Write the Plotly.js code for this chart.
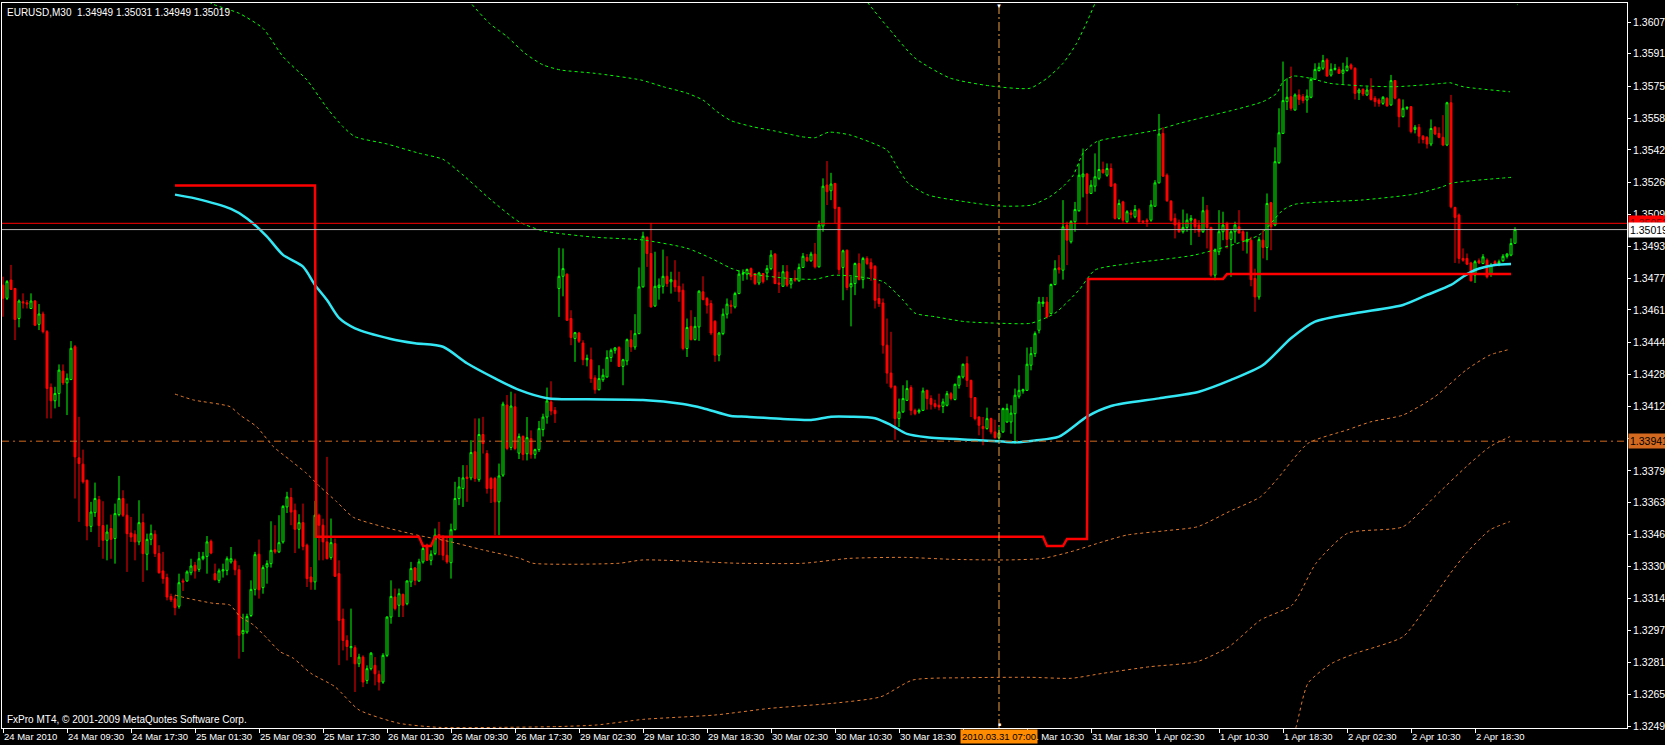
<!DOCTYPE html>
<html><head><meta charset="utf-8">
<script src="https://cdn.plot.ly/plotly-3.0.1.min.js"></script>
<style>html,body{margin:0;padding:0;background:#000;overflow:hidden}#chart{width:1665px;height:745px}</style>
</head><body><div id="chart"></div>
<script>
// ---- EURUSD M30 candles (bar index 0..378) ----
const openP = [
1.34736,1.34669,1.34762,1.34719,1.34566,1.34651,1.34646,1.34617,1.34655,1.34536,
1.34589,1.34499,1.34215,1.34147,1.34184,1.34298,1.34238,1.34255,1.34422,1.33856,
1.33824,1.33742,1.33507,1.33577,1.33643,1.33511,1.33436,1.33496,1.33445,1.33567,
1.33649,1.33564,1.33473,1.33467,1.33428,1.33526,1.33365,1.33441,1.33467,1.33368,
1.33280,1.33246,1.33150,1.33138,1.33100,1.33229,1.33229,1.33271,1.33309,1.33288,
1.33342,1.33354,1.33431,1.33266,1.33232,1.33280,1.33283,1.33326,1.33331,1.33286,
1.32960,1.32969,1.33053,1.33186,1.33365,1.33195,1.33300,1.33317,1.33388,1.33377,
1.33428,1.33606,1.33654,1.33589,1.33492,1.33526,1.33411,1.33249,1.33224,1.33564,
1.33513,1.33428,1.33348,1.33419,1.33266,1.33035,1.32926,1.32889,1.32889,1.32807,
1.32841,1.32722,1.32782,1.32799,1.32753,1.32714,1.32850,1.33045,1.33147,1.33105,
1.33161,1.33113,1.33224,1.33295,1.33229,1.33326,1.33411,1.33334,1.33368,1.33465,
1.33453,1.33360,1.33322,1.33490,1.33649,1.33700,1.33758,1.33754,1.33887,1.33745,
1.33975,1.33878,1.33751,1.33751,1.33632,1.33768,1.34125,1.33909,1.34116,1.33880,
1.33965,1.33877,1.33954,1.33874,1.33898,1.34000,1.34064,1.34141,1.34098,1.34719,
1.34781,1.34792,1.34566,1.34464,1.34492,1.34441,1.34356,1.34356,1.34263,1.34203,
1.34254,1.34268,1.34367,1.34404,1.34418,1.34322,1.34350,1.34458,1.34421,1.34489,
1.34727,1.34979,1.34897,1.34630,1.34724,1.34730,1.34781,1.34753,1.34761,1.34730,
1.34710,1.34413,1.34526,1.34458,1.34523,1.34702,1.34668,1.34642,1.34552,1.34379,
1.34489,1.34588,1.34634,1.34625,1.34693,1.34792,1.34792,1.34820,1.34795,1.34747,
1.34795,1.34798,1.34820,1.34894,1.34747,1.34730,1.34804,1.34741,1.34770,1.34758,
1.34826,1.34877,1.34860,1.34894,1.34829,1.35037,1.35246,1.35217,1.35254,1.35132,
1.34826,1.34914,1.34727,1.34744,1.34846,1.34764,1.34872,1.34850,1.34832,1.34668,
1.34645,1.34430,1.34288,1.34220,1.34056,1.34090,1.34149,1.34214,1.34098,1.34090,
1.34098,1.34200,1.34158,1.34132,1.34124,1.34118,1.34124,1.34183,1.34153,1.34226,
1.34268,1.34336,1.34251,1.34163,1.34064,1.34016,1.34005,1.34056,1.33988,1.33959,
1.33988,1.34039,1.34039,1.34081,1.34170,1.34197,1.34200,1.34328,1.34387,1.34506,
1.34642,1.34650,1.34591,1.34739,1.34824,1.34812,1.35042,1.34957,1.35059,1.35115,
1.35288,1.35302,1.35203,1.35240,1.35280,1.35325,1.35296,1.35330,1.35251,1.35076,
1.35160,1.35059,1.35104,1.35084,1.35118,1.35062,1.35067,1.35067,1.35138,1.35257,
1.35509,1.35296,1.35164,1.35076,1.35053,1.35008,1.35030,1.35067,1.35070,1.35042,
1.35008,1.35118,1.35030,1.34787,1.34906,1.35008,1.35050,1.34969,1.35008,1.35033,
1.35008,1.34957,1.34965,1.34770,1.34676,1.34965,1.34928,1.35156,1.35042,1.35360,
1.35509,1.35671,1.35696,1.35628,1.35705,1.35696,1.35679,1.35693,1.35784,1.35829,
1.35841,1.35883,1.35806,1.35835,1.35835,1.35815,1.35829,1.35858,1.35841,1.35716,
1.35733,1.35705,1.35733,1.35688,1.35679,1.35662,1.35688,1.35654,1.35778,1.35682,
1.35594,1.35637,1.35645,1.35529,1.35540,1.35495,1.35489,1.35455,1.35540,1.35509,
1.35489,1.35450,1.35665,1.35132,1.35093,1.34872,1.34872,1.34849,1.34787,1.34860,
1.34846,1.34863,1.34795,1.34855,1.34846,1.34860,1.34883,1.34889,1.34949];
const highP = [
1.34779,1.34762,1.34839,1.34722,1.34663,1.34694,1.34660,1.34694,1.34660,1.34640,
1.34601,1.34507,1.34235,1.34218,1.34332,1.34332,1.34286,1.34451,1.34431,1.34065,
1.33898,1.33745,1.33632,1.33730,1.33662,1.33635,1.33516,1.33567,1.33623,1.33764,
1.33691,1.33623,1.33555,1.33487,1.33640,1.33572,1.33470,1.33516,1.33487,1.33411,
1.33377,1.33266,1.33164,1.33156,1.33266,1.33241,1.33283,1.33342,1.33326,1.33377,
1.33377,1.33458,1.33440,1.33317,1.33292,1.33317,1.33354,1.33402,1.33342,1.33309,
1.33062,1.33062,1.33232,1.33377,1.33440,1.33309,1.33334,1.33533,1.33513,1.33564,
1.33615,1.33683,1.33703,1.33623,1.33569,1.33623,1.33419,1.33300,1.33637,1.33572,
1.33546,1.33861,1.33547,1.33445,1.33334,1.33088,1.32952,1.33088,1.32901,1.32858,
1.32850,1.32799,1.32867,1.32841,1.32773,1.32861,1.33049,1.33232,1.33190,1.33190,
1.33164,1.33232,1.33326,1.33300,1.33342,1.33402,1.33419,1.33385,1.33496,1.33530,
1.33462,1.33453,1.33521,1.33734,1.33759,1.33819,1.33819,1.33946,1.34057,1.34057,
1.34065,1.33895,1.33759,1.33759,1.33827,1.34142,1.34176,1.34193,1.34184,1.33980,
1.33971,1.34064,1.33996,1.33903,1.34044,1.34081,1.34214,1.34246,1.34115,1.34926,
1.34923,1.34795,1.34608,1.34498,1.34498,1.34455,1.34382,1.34418,1.34277,1.34328,
1.34310,1.34404,1.34413,1.34421,1.34425,1.34361,1.34464,1.34506,1.34588,1.34826,
1.35008,1.34985,1.35053,1.34906,1.34770,1.34917,1.34883,1.34804,1.34863,1.34804,
1.34744,1.34566,1.34608,1.34574,1.34710,1.34781,1.34676,1.34659,1.34557,1.34498,
1.34617,1.34668,1.34659,1.34702,1.34812,1.34816,1.34820,1.34826,1.34798,1.34804,
1.34798,1.34838,1.34914,1.34900,1.34804,1.34838,1.34838,1.34770,1.34812,1.34846,
1.34900,1.34894,1.34906,1.34951,1.35064,1.35280,1.35368,1.35308,1.35257,1.35135,
1.34917,1.34917,1.34778,1.34851,1.34897,1.34880,1.34883,1.34872,1.34838,1.34744,
1.34668,1.34566,1.34498,1.34226,1.34158,1.34226,1.34251,1.34226,1.34107,1.34107,
1.34214,1.34203,1.34175,1.34152,1.34183,1.34158,1.34197,1.34192,1.34234,1.34277,
1.34336,1.34373,1.34254,1.34166,1.34068,1.34064,1.34112,1.34061,1.34050,1.34013,
1.34112,1.34132,1.34124,1.34209,1.34277,1.34209,1.34418,1.34421,1.34500,1.34676,
1.34676,1.34676,1.34744,1.34863,1.34889,1.35169,1.35059,1.35067,1.35160,1.35356,
1.35432,1.35308,1.35271,1.35407,1.35472,1.35365,1.35356,1.35356,1.35257,1.35172,
1.35166,1.35118,1.35118,1.35144,1.35127,1.35067,1.35076,1.35169,1.35271,1.35608,
1.35540,1.35305,1.35169,1.35101,1.35070,1.35121,1.35101,1.35093,1.35076,1.35067,
1.35186,1.35144,1.35033,1.34923,1.35118,1.35110,1.35059,1.35016,1.35059,1.35118,
1.35016,1.35008,1.34982,1.34820,1.34982,1.35016,1.35203,1.35160,1.35438,1.35637,
1.35875,1.35790,1.35849,1.35713,1.35733,1.35710,1.35733,1.35795,1.35866,1.35869,
1.35909,1.35892,1.35866,1.35863,1.35849,1.35869,1.35897,1.35866,1.35846,1.35739,
1.35739,1.35747,1.35790,1.35699,1.35688,1.35699,1.35693,1.35807,1.35781,1.35688,
1.35682,1.35645,1.35648,1.35552,1.35557,1.35500,1.35495,1.35580,1.35546,1.35540,
1.35602,1.35670,1.35705,1.35135,1.35101,1.34923,1.34897,1.34855,1.34863,1.34872,
1.34894,1.34872,1.34849,1.34863,1.34866,1.34894,1.34900,1.34974,1.35031];
const lowP = [
1.34575,1.34660,1.34711,1.34456,1.34521,1.34617,1.34617,1.34615,1.34527,1.34507,
1.34490,1.34057,1.34057,1.34108,1.34116,1.34227,1.34074,1.34252,1.33649,1.33530,
1.33725,1.33436,1.33478,1.33555,1.33402,1.33342,1.33334,1.33342,1.33317,1.33558,
1.33555,1.33275,1.33428,1.33334,1.33411,1.33224,1.33283,1.33411,1.33351,1.33266,
1.33215,1.33130,1.33122,1.33054,1.33088,1.33178,1.33224,1.33258,1.33241,1.33275,
1.33334,1.33266,1.33365,1.33232,1.33218,1.33246,1.33258,1.33317,1.33258,1.32833,
1.32867,1.32960,1.33045,1.33155,1.33139,1.33164,1.33215,1.33297,1.33368,1.33371,
1.33419,1.33575,1.33513,1.33371,1.33394,1.33385,1.33198,1.33184,1.33184,1.33334,
1.33334,1.33339,1.33337,1.33249,1.32800,1.32875,1.32824,1.32841,1.32663,1.32790,
1.32688,1.32705,1.32773,1.32697,1.32671,1.32705,1.32841,1.33011,1.33079,1.33045,
1.33045,1.33105,1.33198,1.33207,1.33224,1.33317,1.33331,1.33309,1.33360,1.33360,
1.33334,1.33317,1.33241,1.33487,1.33615,1.33606,1.33632,1.33742,1.33734,1.33734,
1.33878,1.33674,1.33626,1.33462,1.33462,1.33759,1.33895,1.33895,1.33895,1.33850,
1.33843,1.33843,1.33852,1.33852,1.33886,1.33965,1.34030,1.34073,1.34034,1.34574,
1.34679,1.34554,1.34430,1.34345,1.34441,1.34328,1.34322,1.34238,1.34183,1.34200,
1.34243,1.34265,1.34345,1.34387,1.34319,1.34226,1.34328,1.34396,1.34407,1.34486,
1.34724,1.34829,1.34622,1.34625,1.34662,1.34693,1.34727,1.34693,1.34702,1.34651,
1.34404,1.34370,1.34455,1.34455,1.34452,1.34659,1.34591,1.34481,1.34345,1.34348,
1.34481,1.34566,1.34591,1.34617,1.34690,1.34758,1.34764,1.34761,1.34736,1.34736,
1.34744,1.34761,1.34812,1.34741,1.34696,1.34727,1.34727,1.34719,1.34753,1.34753,
1.34823,1.34855,1.34855,1.34821,1.34826,1.35008,1.35144,1.35169,1.35050,1.34792,
1.34659,1.34710,1.34526,1.34685,1.34761,1.34719,1.34838,1.34758,1.34617,1.34625,
1.34387,1.34234,1.34209,1.33948,1.34013,1.34085,1.34146,1.34073,1.34073,1.34081,
1.34095,1.34102,1.34102,1.34107,1.34098,1.34084,1.34118,1.34149,1.34149,1.34209,
1.34260,1.34217,1.34064,1.34047,1.33971,1.33920,1.34000,1.33976,1.33954,1.33940,
1.33983,1.34034,1.33979,1.33928,1.34158,1.34183,1.34197,1.34302,1.34370,1.34490,
1.34625,1.34566,1.34588,1.34735,1.34795,1.34764,1.34838,1.34948,1.35008,1.35110,
1.35183,1.35045,1.35200,1.35212,1.35271,1.35305,1.35288,1.35237,1.35070,1.35070,
1.35053,1.35053,1.35076,1.35076,1.35053,1.35053,1.35033,1.35059,1.35135,1.35254,
1.35288,1.35160,1.35059,1.34974,1.35002,1.34999,1.35008,1.34940,1.35002,1.34982,
1.35002,1.34923,1.34778,1.34761,1.34889,1.34965,1.34923,1.34778,1.34951,1.34999,
1.34911,1.34897,1.34730,1.34600,1.34662,1.34872,1.34863,1.34914,1.35036,1.35353,
1.35506,1.35628,1.35625,1.35625,1.35654,1.35662,1.35614,1.35688,1.35781,1.35824,
1.35832,1.35798,1.35798,1.35829,1.35812,1.35761,1.35824,1.35832,1.35682,1.35679,
1.35699,1.35699,1.35676,1.35645,1.35645,1.35654,1.35645,1.35649,1.35682,1.35540,
1.35591,1.35628,1.35509,1.35509,1.35458,1.35458,1.35432,1.35444,1.35500,1.35484,
1.35444,1.35444,1.35127,1.34849,1.34846,1.34855,1.34838,1.34755,1.34747,1.34843,
1.34843,1.34770,1.34778,1.34838,1.34832,1.34855,1.34872,1.34883,1.34949];
const closeP = [
1.34669,1.34754,1.34714,1.34561,1.34655,1.34646,1.34640,1.34655,1.34532,1.34589,
1.34499,1.34210,1.34147,1.34184,1.34303,1.34238,1.34261,1.34414,1.33861,1.33827,
1.33734,1.33509,1.33580,1.33649,1.33511,1.33436,1.33478,1.33441,1.33572,1.33649,
1.33564,1.33470,1.33453,1.33428,1.33526,1.33368,1.33441,1.33470,1.33368,1.33271,
1.33241,1.33147,1.33133,1.33093,1.33220,1.33224,1.33275,1.33305,1.33280,1.33342,
1.33354,1.33428,1.33371,1.33235,1.33280,1.33286,1.33342,1.33342,1.33286,1.32952,
1.32977,1.33048,1.33186,1.33363,1.33184,1.33297,1.33317,1.33385,1.33377,1.33424,
1.33609,1.33657,1.33580,1.33492,1.33526,1.33405,1.33241,1.33224,1.33564,1.33513,
1.33428,1.33342,1.33424,1.33253,1.33028,1.32926,1.32895,1.32895,1.32807,1.32841,
1.32714,1.32782,1.32861,1.32756,1.32714,1.32850,1.33045,1.33150,1.33088,1.33164,
1.33105,1.33229,1.33292,1.33232,1.33326,1.33394,1.33334,1.33365,1.33462,1.33445,
1.33360,1.33326,1.33490,1.33649,1.33708,1.33754,1.33751,1.33883,1.33751,1.33975,
1.33929,1.33700,1.33700,1.33632,1.33764,1.34130,1.33904,1.34120,1.33904,1.33965,
1.33874,1.33959,1.33874,1.33898,1.34005,1.34064,1.34146,1.34095,1.34081,1.34781,
1.34820,1.34557,1.34469,1.34494,1.34450,1.34356,1.34363,1.34260,1.34203,1.34260,
1.34277,1.34367,1.34404,1.34416,1.34322,1.34356,1.34458,1.34421,1.34489,1.34727,
1.34985,1.34897,1.34625,1.34730,1.34736,1.34781,1.34744,1.34764,1.34727,1.34702,
1.34413,1.34520,1.34458,1.34526,1.34705,1.34662,1.34634,1.34492,1.34379,1.34492,
1.34588,1.34639,1.34628,1.34693,1.34792,1.34795,1.34816,1.34781,1.34744,1.34798,
1.34753,1.34820,1.34889,1.34744,1.34741,1.34804,1.34736,1.34764,1.34761,1.34826,
1.34883,1.34860,1.34894,1.34829,1.35042,1.35240,1.35212,1.35251,1.35127,1.34815,
1.34911,1.34724,1.34744,1.34846,1.34764,1.34872,1.34846,1.34820,1.34659,1.34642,
1.34430,1.34288,1.34217,1.34056,1.34090,1.34158,1.34209,1.34098,1.34081,1.34098,
1.34197,1.34158,1.34129,1.34118,1.34115,1.34141,1.34183,1.34158,1.34231,1.34271,
1.34333,1.34251,1.34163,1.34056,1.34022,1.34005,1.34056,1.33988,1.33959,1.33983,
1.34107,1.34107,1.34084,1.34175,1.34200,1.34203,1.34333,1.34387,1.34489,1.34650,
1.34650,1.34574,1.34739,1.34820,1.34815,1.35033,1.34965,1.35059,1.35121,1.35296,
1.35302,1.35203,1.35245,1.35288,1.35325,1.35308,1.35330,1.35240,1.35076,1.35152,
1.35067,1.35110,1.35096,1.35121,1.35059,1.35057,1.35059,1.35144,1.35257,1.35506,
1.35291,1.35166,1.35067,1.35042,1.35008,1.35030,1.35067,1.35076,1.35033,1.35008,
1.35115,1.35030,1.34787,1.34914,1.35008,1.35042,1.34969,1.35008,1.35042,1.35002,
1.34962,1.34968,1.34764,1.34676,1.34968,1.34928,1.35152,1.35033,1.35365,1.35512,
1.35676,1.35693,1.35637,1.35705,1.35682,1.35676,1.35699,1.35784,1.35835,1.35846,
1.35880,1.35801,1.35835,1.35840,1.35815,1.35832,1.35852,1.35841,1.35713,1.35730,
1.35710,1.35730,1.35682,1.35671,1.35662,1.35693,1.35649,1.35778,1.35688,1.35594,
1.35637,1.35642,1.35518,1.35540,1.35495,1.35478,1.35455,1.35534,1.35506,1.35489,
1.35450,1.35665,1.35135,1.35081,1.34872,1.34863,1.34843,1.34758,1.34855,1.34849,
1.34880,1.34778,1.34838,1.34843,1.34855,1.34883,1.34894,1.34948,1.35019];

// ---- indicators (bar position, price) ----
const maBars = [43,48,57,61,66,70,75,78,81,84,88,97,103,110,116,123,129,136,146,160,170,175,182,186,195,202,207,212,218,222,226,231,243,250,253,258,264,271,277,289,299,307,315,322,328,338,350,356,362,365,368,373,377];
const maVals = [1.35197,1.35178,1.35124,1.35076,1.34983,1.34890,1.34830,1.34737,1.34660,1.34569,1.34516,1.34462,1.34440,1.34422,1.34338,1.34261,1.34202,1.34160,1.34154,1.34151,1.34130,1.34109,1.34069,1.34066,1.34054,1.34049,1.34066,1.34066,1.34058,1.34023,1.33978,1.33961,1.33947,1.33939,1.33935,1.33945,1.33964,1.34066,1.34120,1.34159,1.34193,1.34253,1.34329,1.34465,1.34550,1.34593,1.34635,1.34686,1.34737,1.34779,1.34813,1.34839,1.34844];

const levelBars = [43,78,78.3,104,105,107,108,260,261,265,266,271,271.3,305,306,377];
const levelVals = [1.35243,1.35243,1.33454,1.33454,1.33407,1.33407,1.33454,1.33454,1.33407,1.33407,1.33443,1.33443,1.34767,1.34767,1.34793,1.34793];

const greenBand1Bars = [49,52.4,59,65,70,76,79,81.4,85,88,96,104,110,115,122,129,135,148,160,171,177,182,186,196,203,207.5,212,220,225,228,233,240.5,249,257,263,269,273,282,298,314,320,323,340,353,360,362,377];
const greenBand1Vals = [1.36214,1.36168,1.36121,1.36044,1.35900,1.35781,1.35696,1.35628,1.35543,1.35492,1.35455,1.35408,1.35377,1.35297,1.35170,1.35059,1.35012,1.34980,1.34966,1.34924,1.34873,1.34822,1.34796,1.34771,1.34766,1.34786,1.34783,1.34754,1.34660,1.34593,1.34575,1.34550,1.34542,1.34542,1.34593,1.34711,1.34813,1.34847,1.34890,1.34991,1.35119,1.35148,1.35170,1.35200,1.35238,1.35255,1.35285];

const greenBand2Bars = [115.5,117,121.6,126,130.5,135,139.4,148,159.5,165,170.7,175,178.5,182,187.4,193,199.7,203,206.4,211.75,221,223,226.3,231.3,240.5,248.8,257.2,261.75,265,267.6,270,273.4,281.75,288.4,294.25,302.6,308.4,315,318.4,320,322.6,326.75,331.75,340,348.4,360,361.75,365,376.75];
const greenBand2Vals = [1.36214,1.36172,1.36070,1.36002,1.35917,1.35858,1.35832,1.35815,1.35781,1.35747,1.35716,1.35679,1.35620,1.35574,1.35543,1.35521,1.35492,1.35487,1.35515,1.35501,1.35424,1.35357,1.35255,1.35195,1.35161,1.35139,1.35144,1.35187,1.35238,1.35297,1.35408,1.35467,1.35501,1.35526,1.35561,1.35603,1.35632,1.35671,1.35713,1.35772,1.35801,1.35790,1.35764,1.35751,1.35747,1.35764,1.35767,1.35747,1.35721];

const greenBand3Bars = [213.5,216.25,221.75,228,236.75,246.75,256.75,261,265,268.4,271.75,273,274];
const greenBand3Vals = [1.36250,1.36173,1.36036,1.35893,1.35791,1.35751,1.35739,1.35790,1.35866,1.35968,1.36112,1.36173,1.36250];

const greenBand4Bars = [375,378.75];
const greenBand4Vals = [1.36220,1.36163];

const orangeBand1Bars = [43,47.6,56.75,59.25,63.4,67.6,71.75,75.9,79.25,83.4,87.6,95,103.4,111.75,120,129.25,132.5,154,160,184,200,211.6,225.4,237.3,251,260,267,275,281,290.7,298.6,306.5,314.4,318.35,326.25,336,342,350,358,365.8,371.75,376.7];
const orangeBand1Vals = [1.34181,1.34151,1.34117,1.34074,1.34015,1.33913,1.33845,1.33777,1.33709,1.33633,1.33553,1.33505,1.33463,1.33429,1.33387,1.33344,1.33319,1.33319,1.33336,1.33319,1.33319,1.33344,1.33349,1.33339,1.33336,1.33344,1.33378,1.33429,1.33463,1.33485,1.33505,1.33582,1.33658,1.33743,1.33930,1.33998,1.34040,1.34074,1.34168,1.34304,1.34380,1.34409];

const orangeBand2Bars = [43,46,52.6,56.75,59.25,62.6,66,69.25,72.6,77,83,89,99,109,124.6,138.5,148.3,160.2,178,191.8,207.65,219.5,227.4,241.25,257,267,274.85,286.7,298.6,306.5,314.4,322.3,328.25,336.15,350,357.9,365.8,371.75,376.7];
const orangeBand2Vals = [1.33157,1.33141,1.33115,1.33106,1.33047,1.33005,1.32937,1.32869,1.32835,1.32758,1.32690,1.32572,1.32504,1.32483,1.32483,1.32487,1.32495,1.32524,1.32546,1.32580,1.32606,1.32639,1.32724,1.32736,1.32738,1.32733,1.32758,1.32792,1.32818,1.32894,1.33030,1.33106,1.33319,1.33472,1.33505,1.33658,1.33811,1.33913,1.33964];

const orangeBand3Bars = [321.75,323.3,326.25,332.2,338.1,350,355.9,361.85,365.8,371.75,376.7];
const orangeBand3Vals = [1.32393,1.32487,1.32708,1.32809,1.32860,1.32945,1.33098,1.33268,1.33370,1.33489,1.33531];

// ---- axis labels / levels ----
const tickBars = [0,16,32,48,64,80,96,112,128,144,160,176,192,208,224,240,256,272,288,304,320,336,352,368];
const tickLabels = ['24 Mar 2010','24 Mar 09:30','24 Mar 17:30','25 Mar 01:30','25 Mar 09:30','25 Mar 17:30','26 Mar 01:30','26 Mar 09:30','26 Mar 17:30','29 Mar 02:30','29 Mar 10:30','29 Mar 18:30','30 Mar 02:30','30 Mar 10:30','30 Mar 18:30','31 Mar 02:30','31 Mar 10:30','31 Mar 18:30','1 Apr 02:30','1 Apr 10:30','1 Apr 18:30','2 Apr 02:30','2 Apr 10:30','2 Apr 18:30'];
const priceTicks = [1.36075,1.35915,1.35750,1.35585,1.35425,1.35260,1.35095,1.34935,1.34770,1.34610,1.34445,1.34280,1.34120,1.33955,1.33790,1.33630,1.33465,1.33305,1.33140,1.32975,1.32815,1.32650,1.32490];
const priceTickText = ['1.36075','1.35915','1.35750','1.35585','1.35425','1.35260','1.35095','1.34935','1.34770','1.34610','1.34445','1.34280','1.34120','1.33955','1.33790','1.33630','1.33465','1.33305','1.33140','1.32975','1.32815','1.32650','1.32490'];
const askPrice = 1.35051, bidPrice = 1.35019, hLinePrice = 1.33941;
const cursorBar = 249, cursorLabel = '2010.03.31 07:00';
const headerText = 'EURUSD,M30\u00a0 1.34949 1.35031 1.34949 1.35019';
const footerText = 'FxPro MT4, \u00a9 2001-2009 MetaQuotes Software Corp.';

const FONT = 'Liberation Sans, Arial, sans-serif';
const barIdx = openP.map((_, i) => i);

function lineTrace(xs, ys, color, width, dash, smooth) {
  const ln = {color:color, width:width, dash:dash||'solid'};
  if (smooth) { ln.shape = 'spline'; ln.smoothing = smooth; }
  return {type:'scatter', mode:'lines', x:xs, y:ys, line:ln, hoverinfo:'skip', showlegend:false};
}
const G = '#00FF00', O = '#E27A2C', DOT = '3px,3px';
const data = [
  {type:'candlestick', x:barIdx, open:openP, high:highP, low:lowP, close:closeP,
   increasing:{line:{color:'#00FF00', width:1}, fillcolor:'#000000'},
   decreasing:{line:{color:'#FF0000', width:1}, fillcolor:'#FF0000'},
   whiskerwidth:0, hoverinfo:'skip', showlegend:false},
  lineTrace(greenBand1Bars, greenBand1Vals, G, 1, DOT, 0.6),
  lineTrace(greenBand2Bars, greenBand2Vals, G, 1, DOT, 0.6),
  lineTrace(greenBand3Bars, greenBand3Vals, G, 1, DOT, 0.6),
  lineTrace(greenBand4Bars, greenBand4Vals, G, 1, DOT),
  lineTrace(orangeBand1Bars, orangeBand1Vals, O, 1, DOT, 0.6),
  lineTrace(orangeBand2Bars, orangeBand2Vals, O, 1, DOT, 0.6),
  lineTrace(orangeBand3Bars, orangeBand3Vals, O, 1, DOT, 0.6),
  lineTrace(maBars, maVals, '#33E8F4', 2.5, 'solid', 0.7),
  lineTrace(levelBars, levelVals, '#FF0000', 2.5)
];

const annotations = [];
annotations.push({xref:'paper', yref:'paper', x:0, y:1, xanchor:'left', yanchor:'top', xshift:3, yshift:-2,
  text:headerText, showarrow:false, font:{family:FONT, size:10, color:'#FFFFFF'}});
annotations.push({xref:'paper', yref:'paper', x:0, y:0, xanchor:'left', yanchor:'bottom', xshift:3, yshift:1,
  text:footerText, showarrow:false, font:{family:FONT, size:10, color:'#FFFFFF'}});
tickBars.forEach((b, i) => {
  annotations.push({xref:'x', yref:'paper', x:b, y:0, xanchor:'left', yanchor:'top', xshift:-1, yshift:-1,
    text:tickLabels[i], showarrow:false, font:{family:FONT, size:9.5, color:'#FFFFFF'}});
});
annotations.push({xref:'x', yref:'paper', x:cursorBar, y:0, xanchor:'center', yanchor:'top', yshift:-1,
  text:cursorLabel, showarrow:false, bgcolor:'#FF8C00', borderpad:1, font:{family:FONT, size:9.5, color:'#000000'}});
annotations.push({xref:'x', yref:'paper', x:cursorBar, y:1, xanchor:'center', yanchor:'top', yshift:2,
  text:'\u25BC', showarrow:false, font:{family:FONT, size:6, color:'#FFFFFF'}});
annotations.push({xref:'x', yref:'paper', x:cursorBar, y:0, xanchor:'center', yanchor:'bottom', yshift:-1,
  text:'\u25A0', showarrow:false, font:{family:FONT, size:5, color:'#FFFFFF'}});
function priceTag(p, bg, fg) {
  return {xref:'paper', yref:'y', x:1, y:p, xanchor:'left', yanchor:'middle', xshift:1,
    text:p.toFixed(5), showarrow:false, bgcolor:bg, borderpad:1, font:{family:FONT, size:10.5, color:fg}};
}
annotations.push(priceTag(askPrice, '#FF0000', '#7A0000'));
annotations.push(priceTag(bidPrice, '#FFFFFF', '#000000'));
annotations.push(priceTag(hLinePrice, '#D2691E', '#000000'));

const shapes = [
  {type:'line', xref:'paper', yref:'y', x0:0, x1:1, y0:askPrice, y1:askPrice, line:{color:'#FF0000', width:1}},
  {type:'line', xref:'paper', yref:'y', x0:0, x1:1, y0:bidPrice, y1:bidPrice, line:{color:'#B4B4B4', width:1}},
  {type:'line', xref:'paper', yref:'y', x0:0, x1:1, y0:hLinePrice, y1:hLinePrice, line:{color:'#D2691E', width:1, dash:'7px,4px,2px,4px'}},
  {type:'line', xref:'x', yref:'paper', x0:cursorBar, x1:cursorBar, y0:0, y1:1, line:{color:'#F0A040', width:1, dash:'9px,3px,2px,3px'}}
];

const layout = {
  width:1665, height:745,
  margin:{l:2, r:38, t:3, b:17, pad:0},
  paper_bgcolor:'#000000', plot_bgcolor:'#000000',
  showlegend:false, dragmode:false, hovermode:false,
  xaxis:{range:[-0.25, 406], showgrid:false, zeroline:false, showline:true, linecolor:'#FFFFFF', linewidth:1, mirror:true,
         ticks:'outside', ticklen:4, tickcolor:'#FFFFFF', tickvals:tickBars, showticklabels:false,
         rangeslider:{visible:false}, fixedrange:true},
  yaxis:{side:'right', range:[1.324798, 1.361733], showgrid:false, zeroline:false, showline:true, linecolor:'#FFFFFF', linewidth:1, mirror:true,
         ticks:'outside', ticklen:3, tickcolor:'#FFFFFF', tickvals:priceTicks, ticktext:priceTickText,
         tickfont:{family:FONT, size:10.5, color:'#FFFFFF'}, fixedrange:true},
  annotations:annotations,
  shapes:shapes
};
Plotly.newPlot('chart', data, layout, {staticPlot:true, displayModeBar:false});
</script>
</body></html>
